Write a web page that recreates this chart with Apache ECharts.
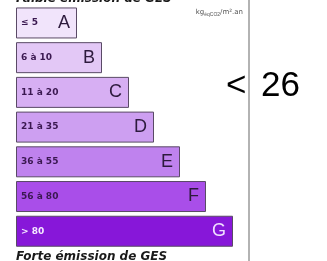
<!DOCTYPE html>
<html>
<head>
<meta charset="utf-8">
<script src="https://cdn.jsdelivr.net/npm/echarts@6/dist/echarts.min.js"></script>
<style>
  html, body { margin: 0; padding: 0; background: #fff; }
  #ges { width: 327px; height: 261px; }
</style>
</head>
<body>
<div id="ges"></div>
<script>
// classes, from low to high emission
var classes = ['A', 'B', 'C', 'D', 'E', 'F', 'G'];
var ranges = ['\u2264 5', '6 \u00e0 10', '11 \u00e0 20', '21 \u00e0 35', '36 \u00e0 55', '56 \u00e0 80', '> 80'];
// bar lengths
var barLength = [61, 86, 113, 138, 164, 190, 217];
var colors = ['#f1e4fb', '#e3c8f6', '#d7aff3', '#cd9ff1', '#bf82ee', '#a94ee9', '#8717d9'];
var value = 26;

function ges_chart_draw() {
    var dom = document.getElementById('ges');
    var chart = echarts.init(dom);

    var option = {
        animation: false,
        grid: { left: 16, top: 5.6, width: 217, height: 243 },
        xAxis: { type: 'value', min: 0, max: 217, show: false },
        yAxis: {
            type: 'category',
            inverse: true,
            data: classes,
            show: false
        },
        series: [
            {
                type: 'bar',
                barWidth: 31,
                data: barLength.map(function (v, i) {
                    return {
                        value: v,
                        itemStyle: { color: colors[i] },
                        label: { color: i === 6 ? '#f4eaff' : '#3a1850' }
                    };
                }),
                itemStyle: { borderColor: '#5a4a66', borderWidth: 1 },
                label: {
                    show: true,
                    position: 'insideLeft',
                    distance: 5,
                    fontFamily: 'DejaVu Sans',
                    fontWeight: 'bold',
                    fontSize: 9,
                    formatter: function (p) { return ranges[p.dataIndex]; }
                }
            },
            {
                type: 'bar',
                barWidth: 31,
                barGap: '-100%',
                silent: true,
                data: barLength.map(function (v, i) {
                    return {
                        value: v,
                        label: { color: i === 6 ? '#f0e0ff' : '#2d1a3d' }
                    };
                }),
                itemStyle: { color: 'rgba(0,0,0,0)' },
                label: {
                    show: true,
                    position: 'insideRight',
                    distance: 7,
                    fontFamily: 'Liberation Sans',
                    fontSize: 18,
                    formatter: function (p) { return classes[p.dataIndex]; }
                }
            }
        ],
        graphic: [
            {
                type: 'text', left: 16, top: -7,
                style: { text: 'Faible \u00e9mission de GES', font: 'italic bold 12px DejaVu Sans', fill: '#1a1a1a' }
            },
            {
                type: 'text', left: 16, top: 251,
                style: { text: 'Forte \u00e9mission de GES', font: 'italic bold 12px DejaVu Sans', fill: '#1a1a1a' }
            },
            {
                type: 'text', right: 84, top: 9,
                style: {
                    text: 'kg{s|\u00e9qCO2}/m\u00b2.an',
                    font: '7px DejaVu Sans',
                    fill: '#555',
                    rich: { s: { fontSize: 5, fill: '#555', padding: [4, 0, 0, 0] } }
                }
            },
            {
                type: 'line',
                shape: { x1: 249, y1: 0, x2: 249, y2: 261 },
                style: { stroke: '#9a9a9a', lineWidth: 1.5 }
            },
            {
                type: 'text', left: 226, top: 69,
                style: { text: '<', font: '35px Liberation Sans', fill: '#000' }
            },
            {
                type: 'text', left: 261, top: 69,
                style: { text: String(value), font: '35px Liberation Sans', fill: '#000' }
            }
        ]
    };

    if (option && typeof option === 'object') {
        chart.setOption(option, true);
    }
}

ges_chart_draw();
</script>
</body>
</html>
